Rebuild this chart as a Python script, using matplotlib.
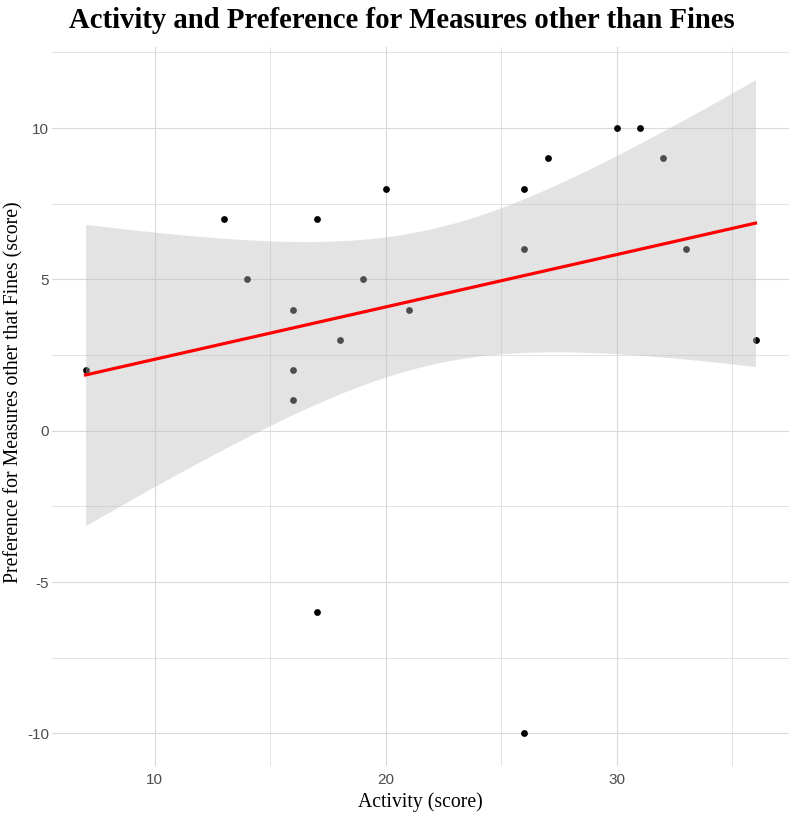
import numpy as np
import matplotlib
matplotlib.use("Agg")
import matplotlib.pyplot as plt
from matplotlib.ticker import MultipleLocator

plt.rcParams["axes.unicode_minus"] = False

activity = [7, 13, 14, 16, 16, 16, 17, 17, 18, 19, 20, 21, 26, 26, 26, 27, 30, 31, 32, 33, 36]
preference = [2, 7, 5, 4, 2, 1, 7, -6, 3, 5, 8, 4, 8, 6, -10, 9, 10, 10, 9, 6, 3]
x_ticks = [10, 20, 30]
y_ticks = [-10, -5, 0, 5, 10]
title = "Activity and Preference for Measures other than Fines"
xlabel = "Activity (score)"
ylabel = "Preference for Measures other that Fines (score)"

x = np.array(activity, float)
y = np.array(preference, float)
n = len(x)
b, a = np.polyfit(x, y, 1)
xs = np.linspace(x.min(), x.max(), 80)
fit = a + b * xs
resid = y - (a + b * x)
s = np.sqrt(np.sum(resid ** 2) / (n - 2))
sxx = np.sum((x - x.mean()) ** 2)
tq = 2.093  # t(0.975, df=19)
se = s * np.sqrt(1 / n + (xs - x.mean()) ** 2 / sxx)
lo, hi = fit - tq * se, fit + tq * se

W, H = 791, 814
fig = plt.figure(figsize=(W / 100, H / 100), dpi=100)
ax = fig.add_axes([52 / W, 1 - 766 / H, (789 - 52) / W, (766 - 47) / H])

ax.scatter(x, y, s=24, color="black", zorder=3, linewidths=0)
ax.fill_between(xs, lo, hi, color=(188 / 255, 188 / 255, 188 / 255), alpha=0.41, lw=0, zorder=4)
ax.plot(xs, fit, color="#ff0000", lw=2.3, zorder=5)

xr = x.max() - x.min()
ax.set_xlim(x.min() - 0.05 * xr, x.max() + 0.05 * xr)
ymin, ymax = min(y.min(), lo.min()), max(y.max(), hi.max())
yr = ymax - ymin
ax.set_ylim(ymin - 0.05 * yr, ymax + 0.05 * yr)

ax.set_xticks(x_ticks)
ax.set_yticks(y_ticks)
ax.xaxis.set_minor_locator(MultipleLocator(5))
ax.yaxis.set_minor_locator(MultipleLocator(2.5))
ax.grid(which="major", color="#d9d9d9", lw=0.8, zorder=0)
ax.grid(which="minor", color="#dedede", lw=0.6, zorder=0)
ax.set_axisbelow(True)
for sp in ax.spines.values():
    sp.set_visible(False)
ax.tick_params(which="both", length=0)
ax.tick_params(axis="both", labelsize=11, labelcolor="#4d4d4d")
ax.tick_params(axis="y", pad=2)
ax.tick_params(axis="x", pad=5)
for lab in ax.get_xticklabels() + ax.get_yticklabels():
    lab.set_family("Liberation Sans")

fig.text(420 / W, 1 - 802 / H, xlabel, ha="center", va="center",
         family="Liberation Serif", fontsize=14.2)
fig.text(14 / W, 1 - 392 / H, ylabel, ha="center", va="center", rotation=90,
         family="Liberation Serif", fontsize=14.2)
fig.text(402 / W, 1 - 21 / H, title, ha="center", va="center",
         family="Liberation Serif", fontweight="bold", fontsize=20.7)

fig.savefig("out.png", dpi=100)
